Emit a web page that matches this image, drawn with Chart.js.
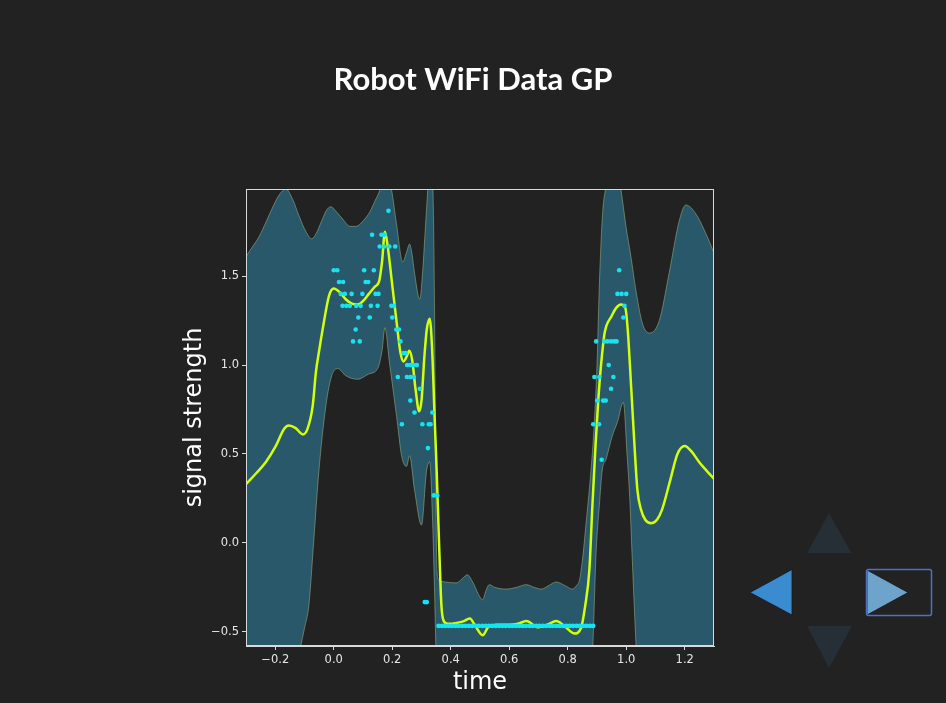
<!DOCTYPE html>
<html>
<head>
<meta charset="utf-8">
<title>Robot WiFi Data GP</title>
<script src="https://cdn.jsdelivr.net/npm/chart.js@4.4.1/dist/chart.umd.min.js"></script>
<style>
  html, body { margin: 0; padding: 0; background: #222222; overflow: hidden; }
  #wrap { position: relative; width: 946px; height: 703px; }
  #overlay { position: absolute; left: 0; top: 0; pointer-events: none; }
</style>
</head>
<body>
<div id="wrap">
  <canvas id="gpChart" width="946" height="703"></canvas>
  <svg id="overlay" width="946" height="703">
    <text x="473" y="90" text-anchor="middle" fill="#ffffff" font-family="Lato, 'Open Sans', sans-serif" font-weight="700" font-size="31">Robot WiFi Data GP</text>
    <!-- slide controls -->
    <polygon points="829,513 851.5,553 807,553" fill="#262e36" />
    <polygon points="807,626 852,626 829,668" fill="#262e36" />
    <polygon points="750,592.5 792,569.5 792,615" fill="#3a8bcf" stroke="#151a20" stroke-width="0.8" />
    <polygon points="867,570 867,615 908,592.5" fill="#6ea3cc" stroke="#151a20" stroke-width="0.8" />
    <rect x="866.5" y="569.5" width="65" height="46" rx="2" fill="none" stroke="#4a72c8" stroke-width="1.5" />
  </svg>
</div>
<script>
// GP posterior mean
const meanX = [-0.30, -0.266, -0.232, -0.198, -0.17, -0.154, -0.13, -0.106, -0.09, -0.072, -0.061, -0.05, -0.038, -0.016, 0.0, 0.02, 0.041, 0.062, 0.082, 0.10, 0.12, 0.14, 0.155, 0.165, 0.175, 0.185, 0.20, 0.215, 0.228, 0.238, 0.25, 0.258, 0.268, 0.28, 0.292, 0.30, 0.31, 0.318, 0.328, 0.336, 0.345, 0.352, 0.36, 0.368, 0.376, 0.39, 0.42, 0.445, 0.465, 0.485, 0.509, 0.53, 0.56, 0.60, 0.63, 0.658, 0.70, 0.73, 0.761, 0.79, 0.823, 0.845, 0.86, 0.874, 0.884, 0.895, 0.905, 0.915, 0.925, 0.932, 0.948, 0.965, 0.982, 0.997, 1.005, 1.017, 1.027, 1.038, 1.05, 1.065, 1.085, 1.105, 1.123, 1.15, 1.175, 1.20, 1.225, 1.249, 1.275, 1.30];
const meanY = [0.33, 0.39, 0.455, 0.545, 0.64, 0.66, 0.645, 0.61, 0.64, 0.77, 0.96, 1.08, 1.20, 1.39, 1.43, 1.41, 1.37, 1.345, 1.34, 1.36, 1.40, 1.44, 1.47, 1.58, 1.75, 1.66, 1.45, 1.24, 1.07, 1.02, 1.05, 1.08, 1.03, 0.86, 0.74, 0.80, 1.05, 1.20, 1.26, 1.10, 0.70, 0.40, 0.00, -0.35, -0.44, -0.455, -0.45, -0.44, -0.425, -0.47, -0.52, -0.47, -0.46, -0.46, -0.455, -0.44, -0.475, -0.46, -0.44, -0.47, -0.51, -0.48, -0.35, -0.15, 0.20, 0.55, 0.82, 1.02, 1.17, 1.22, 1.27, 1.32, 1.34, 1.32, 1.20, 0.87, 0.58, 0.30, 0.19, 0.13, 0.11, 0.13, 0.19, 0.35, 0.50, 0.545, 0.51, 0.455, 0.405, 0.36];

// upper confidence bound
const upperX = [-0.30, -0.28, -0.256, -0.23, -0.208, -0.185, -0.164, -0.14, -0.119, -0.095, -0.075, -0.06, -0.044, -0.025, -0.01, 0.01, 0.031, 0.055, 0.077, 0.10, 0.123, 0.14, 0.157, 0.17, 0.185, 0.197, 0.214, 0.236, 0.25, 0.259, 0.268, 0.276, 0.294, 0.305, 0.311, 0.322, 0.33, 0.339, 0.345, 0.348, 0.353, 0.36, 0.38, 0.42, 0.44, 0.457, 0.475, 0.495, 0.509, 0.52, 0.532, 0.55, 0.59, 0.625, 0.658, 0.685, 0.71, 0.735, 0.761, 0.79, 0.816, 0.83, 0.84, 0.85, 0.862, 0.878, 0.891, 0.90, 0.908, 0.919, 0.93, 0.945, 0.965, 0.985, 0.999, 1.016, 1.033, 1.056, 1.081, 1.113, 1.147, 1.181, 1.204, 1.238, 1.272, 1.30];
const upperY = [1.61, 1.66, 1.72, 1.81, 1.89, 1.96, 1.99, 1.93, 1.84, 1.75, 1.71, 1.74, 1.80, 1.87, 1.89, 1.86, 1.82, 1.78, 1.78, 1.81, 1.86, 1.92, 1.98, 2.05, 2.05, 1.99, 1.80, 1.58, 1.64, 1.68, 1.62, 1.52, 1.37, 1.55, 1.71, 2.0, 2.2, 2.0, 1.24, 0.49, -0.16, -0.21, -0.22, -0.225, -0.20, -0.18, -0.22, -0.29, -0.32, -0.27, -0.235, -0.25, -0.26, -0.25, -0.235, -0.25, -0.26, -0.24, -0.22, -0.24, -0.26, -0.24, -0.21, -0.10, 0.10, 0.38, 0.68, 1.0, 1.45, 1.85, 2.0, 2.15, 2.15, 1.95, 1.78, 1.61, 1.42, 1.23, 1.18, 1.25, 1.52, 1.81, 1.90, 1.85, 1.74, 1.63];

// lower confidence bound
const lowerX = [-0.30, -0.20, -0.13, -0.113, -0.10, -0.085, -0.068, -0.051, -0.027, -0.007, 0.014, 0.041, 0.082, 0.12, 0.15, 0.165, 0.175, 0.19, 0.215, 0.232, 0.249, 0.259, 0.276, 0.30, 0.317, 0.328, 0.338, 0.345, 0.35, 0.36, 0.62, 0.875, 0.885, 0.897, 0.908, 0.918, 0.931, 0.952, 0.97, 0.99, 1.003, 1.012, 1.02, 1.027, 1.035, 1.05, 1.30];
const lowerY = [-0.95, -0.85, -0.70, -0.58, -0.48, -0.35, 0.02, 0.40, 0.77, 0.94, 0.98, 0.94, 0.92, 0.95, 0.98, 1.08, 1.21, 1.02, 0.71, 0.49, 0.43, 0.49, 0.30, 0.10, 0.40, 0.455, 0.12, -0.30, -0.62, -0.75, -0.75, -0.72, -0.60, -0.05, 0.21, 0.41, 0.47, 0.60, 0.68, 0.79, 0.49, 0.25, -0.07, -0.34, -0.62, -0.90, -0.90];

// observed signal samples
const obsX = [0.187,
  0.131, 0.163, 0.174,
  0.157, 0.172, 0.19, 0.21,
  0.0, 0.012, 0.104, 0.137,
  0.018, 0.032, 0.109, 0.118,
  0.024, 0.038, 0.061, 0.098, 0.143, 0.153,
  0.03, 0.043, 0.055, 0.077, 0.092, 0.127, 0.15, 0.197, 0.206,
  0.084, 0.123, 0.20,
  0.075, 0.214, 0.223,
  0.066, 0.089, 0.228,
  0.239, 0.246,
  0.251, 0.262, 0.272, 0.284,
  0.219, 0.25, 0.262, 0.274,
  0.294,
  0.262,
  0.276, 0.337,
  0.233, 0.303, 0.325, 0.331,
  0.322,
  0.342, 0.354,
  0.311, 0.318,
  0.358, 0.370, 0.381, 0.393, 0.404, 0.416, 0.427, 0.439, 0.450, 0.462, 0.473, 0.485, 0.496, 0.508, 0.519, 0.531, 0.542, 0.554, 0.565, 0.577, 0.588, 0.600, 0.611, 0.623, 0.634, 0.646, 0.657, 0.669, 0.680, 0.692, 0.703, 0.715, 0.726, 0.738, 0.749, 0.761, 0.772, 0.784, 0.795, 0.807, 0.818, 0.830, 0.841, 0.853, 0.864, 0.876, 0.887,
  0.976,
  0.970, 0.984, 1.0,
  0.994,
  0.99,
  0.897, 0.925, 0.936, 0.948, 0.959, 0.967,
  0.94,
  0.891, 0.908, 0.956,
  0.948,
  0.901, 0.921, 0.93,
  0.887, 0.907,
  0.916];
const obsY = [1.867,
  1.733, 1.733, 1.733,
  1.667, 1.667, 1.667, 1.667,
  1.533, 1.533, 1.533, 1.533,
  1.467, 1.467, 1.467, 1.467,
  1.4, 1.4, 1.4, 1.4, 1.4, 1.4,
  1.333, 1.333, 1.333, 1.333, 1.333, 1.333, 1.333, 1.333, 1.333,
  1.267, 1.267, 1.267,
  1.2, 1.2, 1.2,
  1.133, 1.133, 1.133,
  1.067, 1.067,
  1.0, 1.0, 1.0, 1.0,
  0.933, 0.933, 0.933, 0.933,
  0.867,
  0.8,
  0.733, 0.733,
  0.667, 0.667, 0.667, 0.667,
  0.533,
  0.267, 0.267,
  -0.333, -0.333,
  -0.467, -0.467, -0.467, -0.467, -0.467, -0.467, -0.467, -0.467, -0.467, -0.467, -0.467, -0.467, -0.467, -0.467, -0.467, -0.467, -0.467, -0.467, -0.467, -0.467, -0.467, -0.467, -0.467, -0.467, -0.467, -0.467, -0.467, -0.467, -0.467, -0.467, -0.467, -0.467, -0.467, -0.467, -0.467, -0.467, -0.467, -0.467, -0.467, -0.467, -0.467, -0.467, -0.467, -0.467, -0.467, -0.467, -0.467,
  1.533,
  1.4, 1.4, 1.4,
  1.333,
  1.267,
  1.133, 1.133, 1.133, 1.133, 1.133, 1.133,
  1.0,
  0.933, 0.933, 0.933,
  0.867,
  0.8, 0.8, 0.8,
  0.667, 0.667,
  0.467];

const xTicks = [-0.2, 0.0, 0.2, 0.4, 0.6, 0.8, 1.0, 1.2];
const yTicks = [-0.5, 0.0, 0.5, 1.0, 1.5];

const toPoints = (xs, ys) => xs.map((x, i) => ({ x: x, y: ys[i] }));
const fmt = v => (v < 0 ? '\u2212' : '') + Math.abs(v).toFixed(1);

// box around the plot area, like matplotlib spines
const frame = {
    id: 'frame',
    afterDatasetsDraw(chart) {
        const a = chart.chartArea;
        const ctx = chart.ctx;
        ctx.save();
        ctx.strokeStyle = '#d9d9d9';
        ctx.lineWidth = 1;
        ctx.strokeRect(a.left + 0.5, a.top + 0.5, a.right - a.left - 1, a.bottom - a.top - 1);
        ctx.restore();
    }
};

const axisFont = { family: 'DejaVu Sans', size: 11.5 };

new Chart(document.getElementById('gpChart').getContext('2d'), {
    type: 'line',
    data: {
        datasets: [
            {
                label: 'observations',
                type: 'scatter',
                data: toPoints(obsX, obsY),
                backgroundColor: '#17e3ef',
                borderWidth: 0,
                pointRadius: 2.3,
                showLine: false
            },
            {
                label: 'mean',
                data: toPoints(meanX, meanY),
                borderColor: '#d2ff0a',
                borderWidth: 2.5,
                pointRadius: 0,
                cubicInterpolationMode: 'monotone',
                fill: false
            },
            {
                label: 'upper',
                data: toPoints(upperX, upperY),
                borderColor: 'rgba(165,185,135,0.65)',
                borderWidth: 0.8,
                backgroundColor: '#29586a',
                pointRadius: 0,
                cubicInterpolationMode: 'monotone',
                fill: '+1'
            },
            {
                label: 'lower',
                data: toPoints(lowerX, lowerY),
                borderColor: 'rgba(165,185,135,0.65)',
                borderWidth: 0.8,
                pointRadius: 0,
                cubicInterpolationMode: 'monotone',
                fill: false
            }
        ]
    },
    options: {
        responsive: false,
        animation: false,
        devicePixelRatio: 1,
        layout: { padding: { left: 0, right: 232, top: 189, bottom: 0 } },
        plugins: {
            legend: { display: false },
            tooltip: { enabled: false },
            filler: { drawTime: 'beforeDatasetsDraw' }
        },
        scales: {
            x: {
                type: 'linear',
                min: -0.3,
                max: 1.3,
                afterBuildTicks: axis => { axis.ticks = xTicks.map(v => ({ value: v })); },
                afterFit: axis => { axis.height = 57; },
                grid: { drawOnChartArea: false, drawTicks: true, tickLength: 4, color: '#d9d9d9' },
                border: { display: true, color: '#d9d9d9' },
                ticks: { color: '#e6e6e6', font: axisFont, padding: 3, maxRotation: 0, callback: v => fmt(v) },
                title: { display: true, text: 'time', color: '#ffffff', font: { family: 'DejaVu Sans', size: 24 }, padding: { top: 0, bottom: 6 } }
            },
            y: {
                min: -0.58,
                max: 1.99,
                afterBuildTicks: axis => { axis.ticks = yTicks.map(v => ({ value: v })); },
                afterFit: axis => { axis.width = 246; },
                grid: { drawOnChartArea: false, drawTicks: true, tickLength: 4, color: '#d9d9d9' },
                border: { display: true, color: '#d9d9d9' },
                ticks: { color: '#e6e6e6', font: axisFont, padding: 3, callback: v => fmt(v) },
                title: { display: true, text: 'signal strength', color: '#ffffff', font: { family: 'DejaVu Sans', size: 24 }, padding: { top: 180, bottom: 0 } }
            }
        }
    },
    plugins: [frame]
});
</script>
</body>
</html>
